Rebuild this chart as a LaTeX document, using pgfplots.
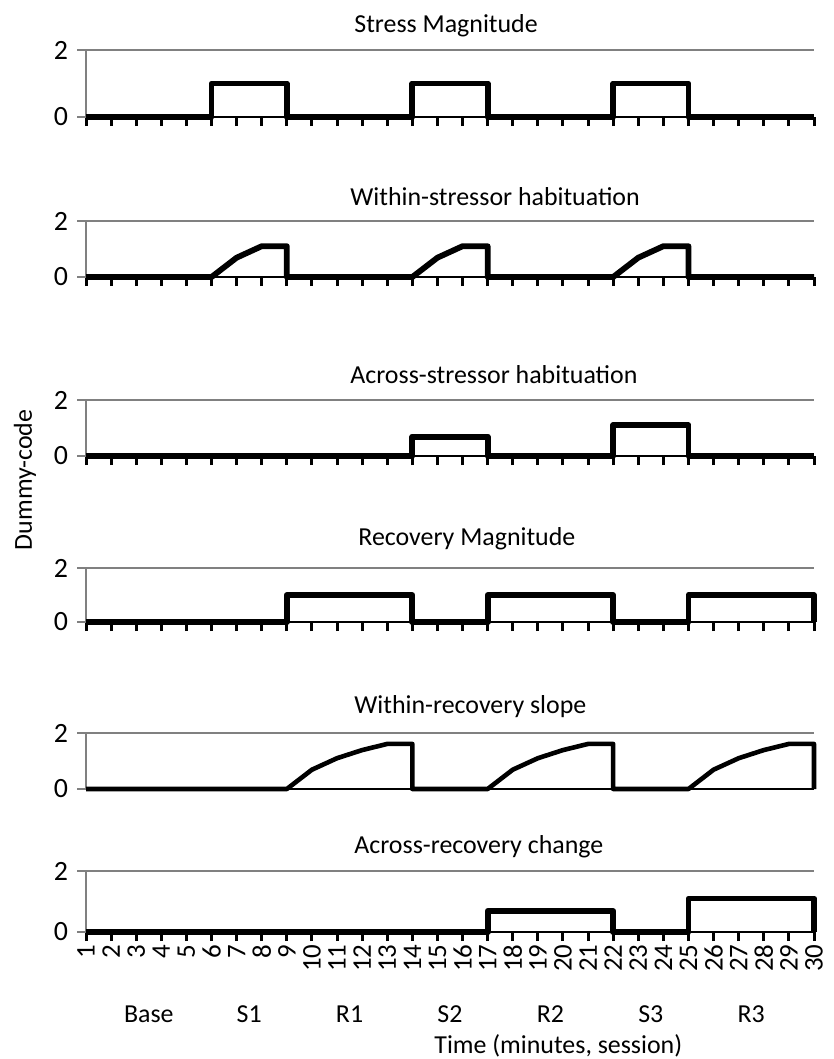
\documentclass[border=0pt]{standalone}
\usepackage{fontspec}
\setmainfont{Carlito}
\usepackage{pgfplots}
\pgfplotsset{compat=1.18}

% 1 px of the reference = 0.5bp
\pgfplotsset{
  panel/.style={
    scale only axis, width=364bp, anchor=south west, clip=false,
    xmin=1, xmax=30, ymin=0, ymax=2,
    axis lines*=left,
    x axis line style={black, line width=1.1bp},
    y axis line style={black!50, line width=1.4bp},
    xtick={1,...,30}, ytick={0,2}, xticklabels={},
    tick align=outside, major tick length=4.5bp,
    x tick style={black, line width=1.5bp},
    y tick style={black!50, line width=1.1bp},
    ymajorgrids, grid style={black!50, line width=1.1bp},
    /pgf/number format/assume math mode=true,
    tick label style={font=\fontsize{14}{14}\selectfont},
  },
  dline/.style={black, line width=2.9bp, line join=round},
}

\begin{document}
\begin{tikzpicture}
\fontsize{13}{15}\selectfont

% Stress Magnitude
\begin{axis}[panel, at={(43bp,-58.5bp)}, height=33.5bp]
\addplot[dline] coordinates {(1,0)(6,0)(6,1)(9,1)(9,0)(14,0)(14,1)(17,1)(17,0)(22,0)(22,1)(25,1)(25,0)(30,0)};
\end{axis}

% Within-stressor habituation
\begin{axis}[panel, at={(43bp,-138.5bp)}, height=28bp]
\addplot[dline] coordinates {(1,0)(6,0)(7,0.69)(8,1.1)(9,1.1)(9,0)(14,0)(15,0.69)(16,1.1)(17,1.1)(17,0)(22,0)(23,0.69)(24,1.1)(25,1.1)(25,0)(30,0)};
\end{axis}

% Across-stressor habituation
\begin{axis}[panel, at={(43bp,-228bp)}, height=28bp]
\addplot[dline] coordinates {(1,0)(14,0)(14,0.69)(17,0.69)(17,0)(22,0)(22,1.1)(25,1.1)(25,0)(30,0)};
\end{axis}

% Recovery Magnitude
\begin{axis}[panel, at={(43bp,-311bp)}, height=27bp]
\addplot[dline] coordinates {(1,0)(9,0)(9,1)(14,1)(14,0)(17,0)(17,1)(22,1)(22,0)(25,0)(25,1)(30,1)(30,0)};
\end{axis}

% Within-recovery slope
\begin{axis}[panel, at={(43bp,-394.5bp)}, height=28bp, xtick=\empty]
\addplot[dline, line width=2.3bp] coordinates {(1,0)(9,0)(10,0.69)(11,1.1)(12,1.39)(13,1.61)(14,1.61)(14,0)(17,0)(18,0.69)(19,1.1)(20,1.39)(21,1.61)(22,1.61)(22,0)(25,0)(26,0.69)(27,1.1)(28,1.39)(29,1.61)(30,1.61)(30,0)};
\end{axis}

% Across-recovery change
\begin{axis}[panel, at={(43bp,-466bp)}, height=30.5bp,
  xticklabels={1,2,3,4,5,6,7,8,9,10,11,12,13,14,15,16,17,18,19,20,21,22,23,24,25,26,27,28,29,30},
  xticklabel style={rotate=90, anchor=east, inner sep=1.5pt, font=\fontsize{13.5}{13.5}\selectfont}]
\addplot[dline] coordinates {(1,0)(17,0)(17,0.69)(22,0.69)(22,0)(25,0)(25,1.1)(30,1.1)(30,0)};
\node[anchor=base] at (axis cs:3.5,0)  [yshift=-45bp] {Base};
\node[anchor=base] at (axis cs:7.5,0)  [yshift=-45bp] {S1};
\node[anchor=base] at (axis cs:11.5,0) [yshift=-45bp] {R1};
\node[anchor=base] at (axis cs:15.5,0) [yshift=-45bp] {S2};
\node[anchor=base] at (axis cs:19.5,0) [yshift=-45bp] {R2};
\node[anchor=base] at (axis cs:23.5,0) [yshift=-45bp] {S3};
\node[anchor=base] at (axis cs:27.5,0) [yshift=-45bp] {R3};
\end{axis}

% panel titles
\node[anchor=base west, inner sep=0pt] at (177bp,-16bp)    {Stress Magnitude};
\node[anchor=base west, inner sep=0pt] at (175bp,-102.5bp) {Within-stressor habituation};
\node[anchor=base west, inner sep=0pt] at (175bp,-191.5bp) {Across-stressor habituation};
\node[anchor=base west, inner sep=0pt] at (179bp,-272.5bp) {Recovery Magnitude};
\node[anchor=base west, inner sep=0pt] at (177bp,-356.5bp) {Within-recovery slope};
\node[anchor=base west, inner sep=0pt] at (177bp,-426.5bp) {Across-recovery change};

\node[rotate=90] at (12.5bp,-240bp) {Dummy-code};
\node[anchor=base west, inner sep=0pt] at (217bp,-526.5bp) {Time (minutes, session)};

\pgfresetboundingbox
\path[use as bounding box] (0,0) rectangle (417bp,-529.5bp);
\end{tikzpicture}
\end{document}
